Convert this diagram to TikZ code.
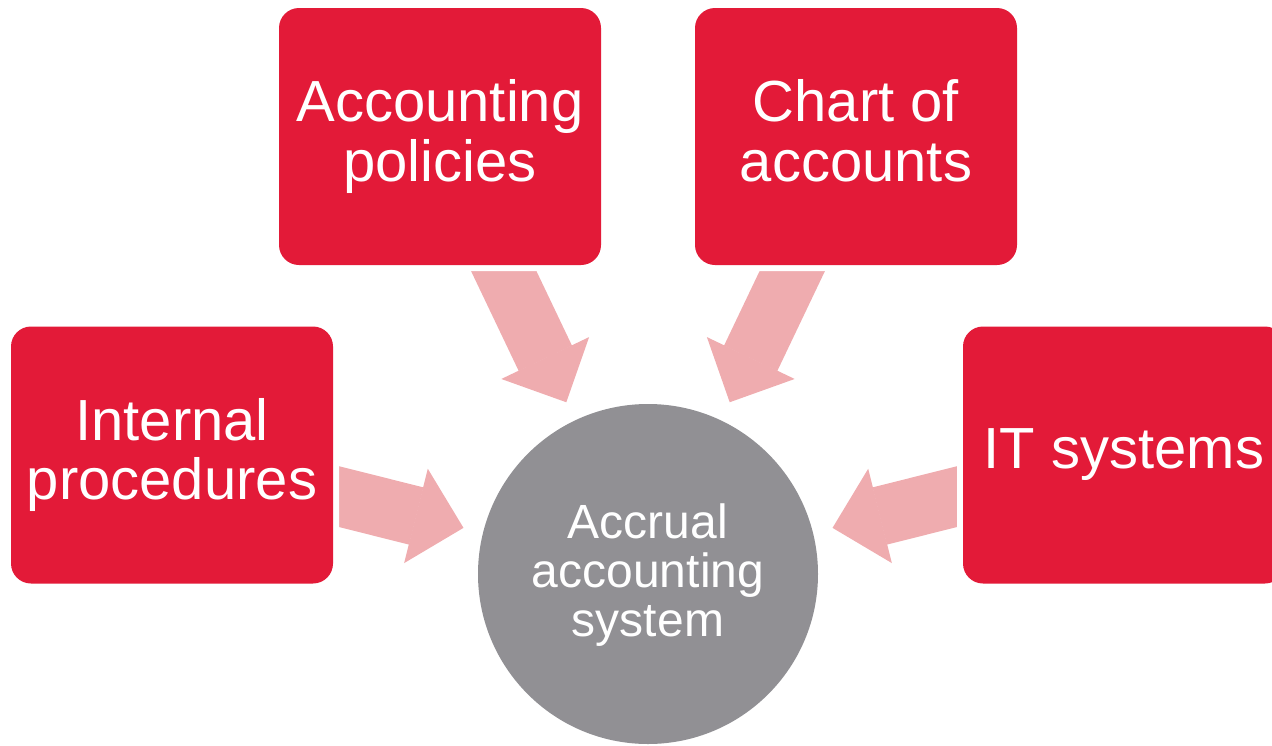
\documentclass[tikz,border=0pt]{standalone}
\usepackage{fontspec}
\setmainfont{Liberation Sans}
\usetikzlibrary{arrows.meta,backgrounds}

\definecolor{boxred}{HTML}{E31A38}
\definecolor{arrowpink}{HTML}{EFACAF}
\definecolor{hubgrey}{HTML}{919094}

% fixed line boxes so every label sits on the same baselines
\newcommand{\boxstrut}{\rule[-12pt]{0pt}{46pt}}
\newcommand{\hubstrut}{\rule[-6pt]{0pt}{42pt}}

\begin{document}
\begin{tikzpicture}[x=1pt,y=-1pt]
	\useasboundingbox (0,0) rectangle (1272,745);

	\begin{scope}[every node/.style={rectangle,rounded corners=20pt,fill=boxred,text=white,
			preaction={draw=white,line width=12pt},minimum width=322pt,minimum height=257pt,
			inner sep=0pt,align=center,font=\fontsize{58}{59.5}\selectfont}]
		\node (pol) at (440,136.5) {\boxstrut Accounting\\\boxstrut policies};
		\node (chart) at (856,136.5) {\boxstrut Chart of\\\boxstrut accounts};
		\node (proc) at (172,455) {\boxstrut Internal\\\boxstrut procedures};
		\node (its) at (1124,455) {\boxstrut IT systems};
	\end{scope}

	\node[circle,fill=hubgrey,minimum size=340pt,inner sep=0pt,text=white,align=center,
		font=\fontsize{48}{49}\selectfont] (acc) at (648,574)
		{\hubstrut Accrual\\\hubstrut accounting\\\hubstrut system};

	\begin{scope}[on background layer,every edge/.style={draw=arrowpink,line width=59pt,
			-{Triangle[length=49pt,width=97pt,line width=1.5pt]},shorten >=20pt,shorten <=-15pt}]
		\path (proc) edge (acc);
		\path (pol) edge (acc);
		\path (chart) edge (acc);
		\path (its) edge (acc);
	\end{scope}
\end{tikzpicture}
\end{document}
